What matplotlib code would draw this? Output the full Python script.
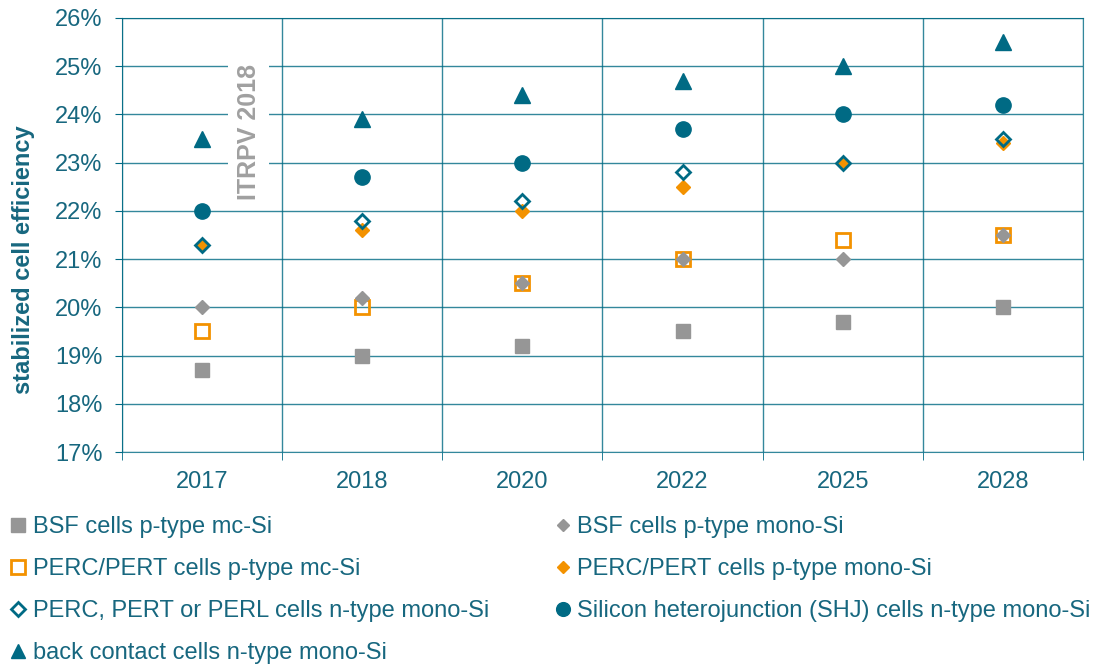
import matplotlib.pyplot as plt
from matplotlib.ticker import FixedLocator

plt.rcParams['font.family'] = ['Liberation Sans', 'DejaVu Sans']

years = ['2017', '2018', '2020', '2022', '2025', '2028']
bsf_mc = [18.7, 19.0, 19.2, 19.5, 19.7, 20.0]
bsf_mono = [20.0, 20.2, 20.5, 21.0, 21.0, 21.5]
perc_mc = [19.5, 20.0, 20.5, 21.0, 21.4, 21.5]
perc_mono = [21.3, 21.6, 22.0, 22.5, 23.0, 23.4]
n_mono = [21.3, 21.8, 22.2, 22.8, 23.0, 23.5]
shj = [22.0, 22.7, 23.0, 23.7, 24.0, 24.2]
back_contact = [23.5, 23.9, 24.4, 24.7, 25.0, 25.5]
yticks = [17, 18, 19, 20, 21, 22, 23, 24, 25, 26]

teal = '#006A84'
orange = '#F39200'
gray = '#969696'
txt = '#17677F'

fig = plt.figure(figsize=(10.97, 6.66), dpi=100)
ax = fig.add_axes([0.1112, 0.3213, 0.8760, 0.6517])
x = list(range(len(years)))

ax.plot(x, bsf_mc, 's', color=gray, ms=10.5, ls='none', label='BSF cells p-type mc-Si')
ax.plot(x, perc_mc, 's', mfc='none', mec=orange, mew=2, ms=10.5, ls='none', label='PERC/PERT cells p-type mc-Si')
ax.plot(x, bsf_mono, 'D', color=gray, ms=7, ls='none', label='BSF cells p-type mono-Si')
ax.plot(x, perc_mono, 'D', color=orange, ms=7, ls='none', label='PERC/PERT cells p-type mono-Si')
ax.plot(x, n_mono, 'D', mfc='none', mec=teal, mew=2, ms=7.5, ls='none', label='PERC, PERT or PERL cells n-type mono-Si')
ax.plot(x, shj, 'o', color=teal, ms=11, ls='none', label='Silicon heterojunction (SHJ) cells n-type mono-Si')
ax.plot(x, back_contact, '^', color=teal, ms=11, ls='none', label='back contact cells n-type mono-Si')

ax.set_xlim(-0.5, len(years) - 0.5)
ax.set_ylim(17, 26)
ax.set_xticks(x)
ax.set_xticklabels(years)
ax.xaxis.set_minor_locator(FixedLocator([i - 0.5 for i in range(len(years) + 1)]))
ax.set_yticks(yticks)
ax.set_yticklabels([f'{v}%' for v in yticks])
ax.tick_params(axis='x', which='major', length=0, pad=14, labelsize=17, labelcolor=txt)
ax.tick_params(axis='x', which='minor', length=6, color=teal, direction='out')
ax.tick_params(axis='y', length=5, color=teal, pad=9, labelsize=17, labelcolor=txt)
ax.grid(True, axis='y', color=teal, lw=1, alpha=0.8)
ax.grid(True, axis='x', which='minor', color=teal, lw=1, alpha=0.8)
ax.set_axisbelow(True)
for s in ax.spines.values():
    s.set_color(teal)
    s.set_alpha(0.8)

ax.set_ylabel('stabilized cell efficiency', fontsize=17, fontweight='bold', color=txt)
ax.yaxis.set_label_coords(-0.091, 0.442)

ax.text(0.29, 23.63, 'ITRPV 2018', rotation=90, ha='center', va='center', fontsize=18,
        fontweight='bold', color='#A0A0A0',
        bbox=dict(facecolor='white', edgecolor='none', pad=6))

handles, labels = ax.get_legend_handles_labels()
order = [0, 1, 4, 6, 2, 3, 5]
leg = fig.legend([handles[i] for i in order], [labels[i] for i in order], ncol=2,
                 loc='upper left', bbox_to_anchor=(-0.009, 0.257), frameon=False,
                 fontsize=17, handlelength=0.6, handletextpad=0.3, labelspacing=0.85,
                 columnspacing=2.83, markerscale=0.9)
for t in leg.get_texts():
    t.set_color(txt)

fig.savefig('out.png', dpi=100)
